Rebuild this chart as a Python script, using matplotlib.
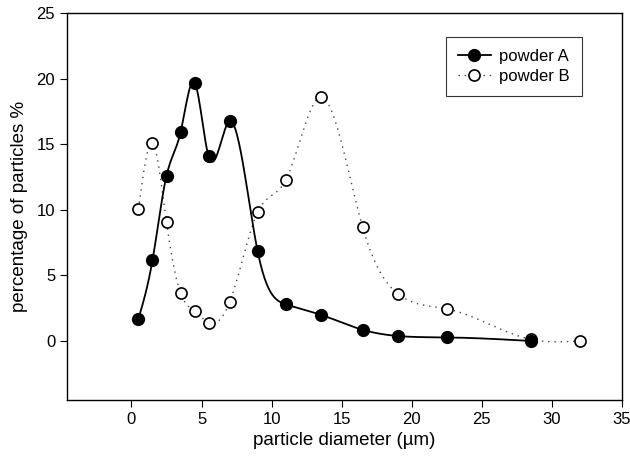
import matplotlib
matplotlib.use("Agg")
import matplotlib.pyplot as plt
import numpy as np

plt.rcParams['font.family'] = ['Liberation Sans', 'DejaVu Sans']

# particle diameter (µm) and percentage values
dA = [0.5, 1.5, 2.5, 3.5, 4.5, 5.5, 7, 9, 11, 13.5, 16.5, 19, 22.5, 28.5]
pA = [1.7, 6.15, 12.6, 15.9, 19.7, 14.1, 16.75, 6.85, 2.8, 2.0, 0.85, 0.38, 0.27, 0.0]
dB = [0.5, 1.5, 2.5, 3.5, 4.5, 5.5, 7, 9, 11, 13.5, 16.5, 19, 22.5, 28.5, 32]
pB = [10.05, 15.1, 9.05, 3.65, 2.3, 1.4, 2.95, 9.8, 12.25, 18.6, 8.65, 3.6, 2.45, 0.12, 0.0]


def spline(x, y, n=400):
    # natural cubic spline, only for drawing a smooth line through the points
    x = np.asarray(x, float); y = np.asarray(y, float)
    k = len(x); h = np.diff(x)
    A = np.zeros((k, k)); b = np.zeros(k)
    A[0, 0] = A[-1, -1] = 1
    for i in range(1, k - 1):
        A[i, i-1] = h[i-1]; A[i, i] = 2*(h[i-1] + h[i]); A[i, i+1] = h[i]
        b[i] = 6*((y[i+1]-y[i])/h[i] - (y[i]-y[i-1])/h[i-1])
    m = np.linalg.solve(A, b)
    xs = np.linspace(x[0], x[-1], n)
    j = np.clip(np.searchsorted(x, xs) - 1, 0, k - 2)
    t = xs - x[j]; hj = h[j]
    ys = (m[j]*(x[j+1]-xs)**3/(6*hj) + m[j+1]*t**3/(6*hj)
          + (y[j]/hj - m[j]*hj/6)*(x[j+1]-xs) + (y[j+1]/hj - m[j+1]*hj/6)*t)
    return xs, ys


fig = plt.figure(figsize=(6.3, 4.58), dpi=100)
ax = fig.add_axes([67/630, 1-400/458, 555/630, 387/458])

xs, ys = spline(dB, pB)
ax.plot(xs, ys, color='#444444', lw=1.0, ls=(0, (1, 3.5)))
ax.plot(dB, pB, 'o', ms=8, mfc='white', mec='black', mew=1.2)
xs, ys = spline(dA, pA)
ax.plot(xs, ys, color='black', lw=1.3)
ax.plot(dA, pA, 'o', ms=8.5, mfc='black', mec='black')

hA, = ax.plot([], [], color='black', lw=1.3, marker='o', ms=8.5, mfc='black', mec='black')
hB, = ax.plot([], [], color='#444444', lw=1.0, ls=(0, (1, 3.5)), marker='o', ms=8,
              mfc='white', mec='black', mew=1.2)
leg = ax.legend([hA, hB], ['powder A', 'powder B'], loc='upper right',
                bbox_to_anchor=(0.928, 0.938), borderaxespad=0, frameon=True,
                fancybox=False, edgecolor='black', fontsize=12, handlelength=2.0,
                borderpad=0.72, labelspacing=0.32, handletextpad=0.5)
leg.get_frame().set_linewidth(0.8)

ax.set_xlim(-4.6, 35)
ax.set_ylim(-4.5, 25)
ax.set_xticks(np.arange(0, 36, 5))
ax.set_yticks(np.arange(0, 26, 5))
ax.tick_params(direction='out', length=5, labelsize=12, top=False, right=False)
ax.set_xlabel('particle diameter (µm)', fontsize=13.5, labelpad=4)
ax.set_ylabel('percentage of particles %', fontsize=13.5, labelpad=6)
for s in ax.spines.values():
    s.set_linewidth(1.0)

fig.savefig('out.png', dpi=100)
